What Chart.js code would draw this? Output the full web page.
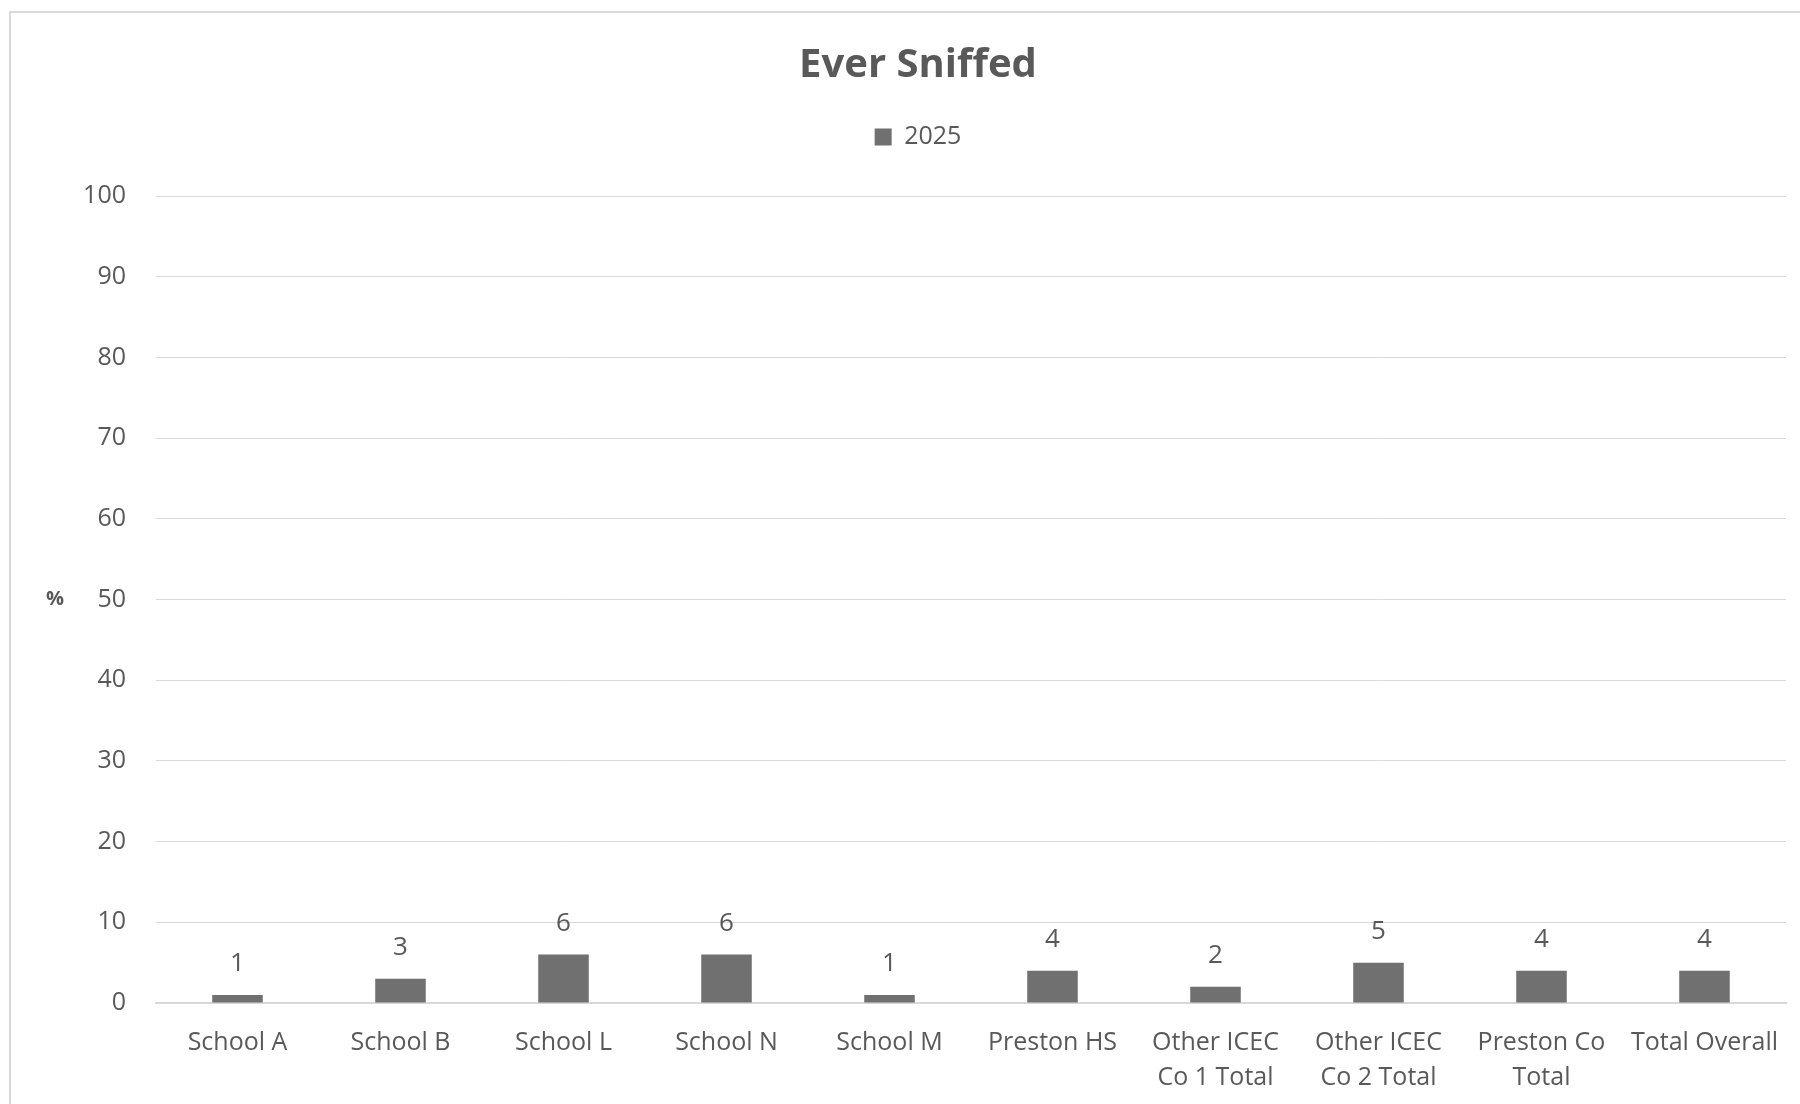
<!DOCTYPE html>
<html>
<head>
<meta charset="utf-8">
<script src="https://cdn.jsdelivr.net/npm/chart.js@4.4.1/dist/chart.umd.min.js"></script>
<style>
  html, body { margin: 0; padding: 0; background: #fff; overflow: hidden; }
  #wrap { position: relative; width: 1800px; height: 1104px; overflow: hidden; }
</style>
</head>
<body>
<div id="wrap"><canvas id="chart" width="1836" height="1121"></canvas></div>
<script>
"use strict";

const categories = [
  'School A', 'School B', 'School L', 'School N', 'School M', 'Preston HS',
  ['Other ICEC', 'Co 1 Total'], ['Other ICEC', 'Co 2 Total'], ['Preston Co', 'Total'], 'Total Overall',
];
const values2025 = [1, 3, 6, 6, 1, 4, 2, 5, 4, 4];
const yTicks = [0, 10, 20, 30, 40, 50, 60, 70, 80, 90, 100];

const fontFamily = "'Open Sans', sans-serif";
const textColor = '#595959';
const barColor = '#707070';
const gridColor = '#d9d9d9';

// frame, "%" label and value labels
const decorations = {
  id: 'decorations',
  beforeDraw: (chart) => {
    const ctx = chart.ctx;
    ctx.save();
    ctx.strokeStyle = gridColor;
    ctx.lineWidth = 2;
    ctx.beginPath();
    ctx.moveTo(10, 1130);
    ctx.lineTo(10, 12);
    ctx.lineTo(1840, 12);
    ctx.stroke();
    ctx.restore();
  },
  afterDatasetsDraw: (chart) => {
    const ctx = chart.ctx;
    const area = chart.chartArea;
    ctx.save();
    ctx.fillStyle = textColor;
    ctx.font = `bold 20px ${fontFamily}`;
    ctx.textAlign = 'center';
    ctx.textBaseline = 'middle';
    ctx.fillText('%', 55, (area.top + area.bottom) / 2);

    ctx.font = `26px ${fontFamily}`;
    const meta = chart.getDatasetMeta(0);
    meta.data.forEach((bar, i) => {
      ctx.fillText(String(values2025[i]), bar.x, bar.y - 31);
    });
    ctx.restore();
  },
};

new Chart(document.getElementById('chart'), {
  type: 'bar',
  data: {
    labels: categories,
    datasets: [{
      label: '2025',
      data: values2025,
      backgroundColor: barColor,
      borderWidth: 0,
      barPercentage: 0.31,
      categoryPercentage: 1,
    }],
  },
  options: {
    responsive: false,
    animation: false,
    layout: {
      padding: { left: 0, right: 0, top: 0, bottom: 4 },
    },
    scales: {
      x: {
        grid: { display: false, drawTicks: false },
        border: { color: gridColor, width: 2 },
        ticks: {
          color: textColor,
          font: { family: fontFamily, size: 25, lineHeight: 1.4 },
          padding: 22,
          maxRotation: 0,
          autoSkip: false,
        },
      },
      y: {
        min: 0,
        max: 100,
        afterBuildTicks: (scale) => {
          scale.ticks = yTicks.map((v) => ({ value: v }));
        },
        afterFit: (scale) => {
          scale.width = 156;
        },
        grid: { color: gridColor, lineWidth: 1, drawTicks: false },
        border: { display: false },
        ticks: {
          color: textColor,
          font: { family: fontFamily, size: 25 },
          padding: 30,
        },
      },
      // blank right margin so title and legend stay centred on the page
      yRight: {
        position: 'right',
        min: 0,
        max: 100,
        afterFit: (scale) => {
          scale.width = 50;
        },
        grid: { display: false, drawTicks: false },
        border: { display: false },
        ticks: { display: false },
      },
    },
    plugins: {
      title: {
        display: true,
        text: 'Ever Sniffed',
        color: textColor,
        font: { family: fontFamily, size: 40, weight: 'bold', lineHeight: 1.2 },
        padding: { top: 41.5, bottom: 15 },
      },
      legend: {
        display: true,
        position: 'top',
        labels: {
          color: textColor,
          font: { family: fontFamily, size: 25 },
          boxWidth: 17,
          boxHeight: 17,
          padding: 20,
        },
      },
      // empty spacer between legend and plot
      subtitle: {
        display: true,
        text: '',
        weight: 500,
        font: { size: 1, lineHeight: 1 },
        padding: { top: 35.5, bottom: 0 },
      },
      tooltip: { enabled: false },
    },
  },
  plugins: [decorations],
});
</script>
</body>
</html>
